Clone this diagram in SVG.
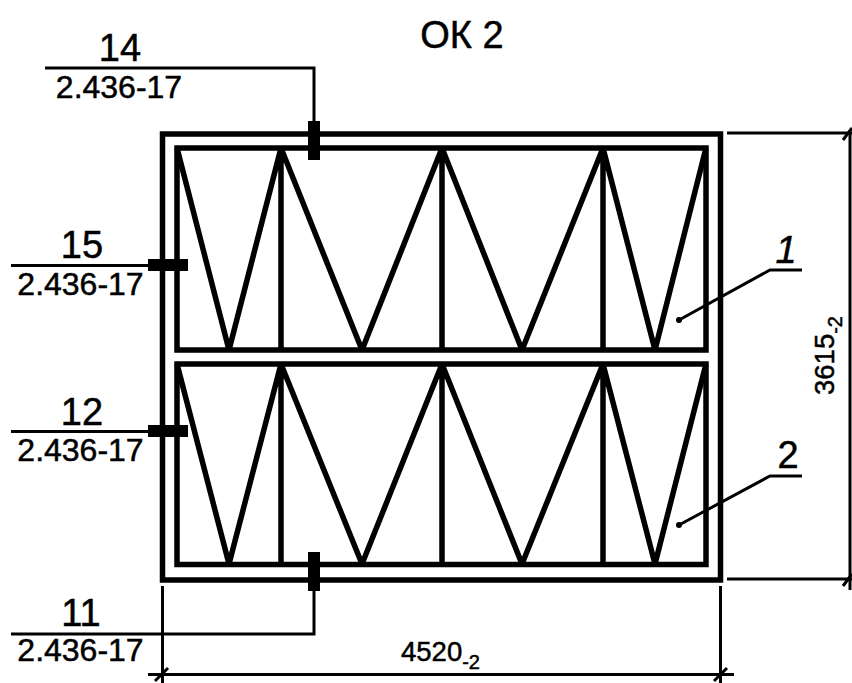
<svg xmlns="http://www.w3.org/2000/svg" width="852" height="683" viewBox="0 0 852 683">
<style>
.h{fill:none;stroke:#000;stroke-width:5.500;stroke-linejoin:miter}
.z{fill:none;stroke:#000;stroke-width:5.500;stroke-linejoin:bevel}
.t{fill:none;stroke:#000;stroke-width:3}
.b{fill:#000}
text{font-family:"Liberation Sans",Arial,sans-serif;fill:#000;stroke:#000;stroke-width:.5}
.n{font-size:38px;text-anchor:middle}
.r{font-size:32px;text-anchor:middle}
.d{font-size:27.500px}
</style>
<rect width="852" height="683" fill="#fff"/>
<g id="frame"><rect class="h" x="162.500" y="134" width="558" height="446"/></g>
<g id="panel-1">
<rect class="h" x="177" y="148" width="529" height="202"/>
<path class="z" d="M281 148V350M442 148V350M603 148V350M177 148L229 350L281 148L362 350L442 148L522 350L603 148L655 350L706 148"/>
</g>
<g id="panel-2">
<rect class="h" x="177" y="364" width="529" height="200.500"/>
<path class="z" d="M281 364V564M442 364V564M603 364V564M177 364L229 564L281 364L362 564L442 364L522 564L603 364L655 564L706 364"/>
</g>
<g id="connectors">
<path class="t" d="M45 68H314V122M11 265.500H150M11 431.500H150M11 634H314V590"/>
<path class="t" d="M162.500 586V683M720.500 586V683M727 133H852M727 579H852M148 674.500H734M850 130V590"/>
<path class="t" d="M155 681L168 668M714 681L727 668M843 140L852 128M843 586L852 574"/>
<path class="t" d="M679 320L770 270H802M679 525L770 476H802"/>
<circle class="b" cx="679" cy="320" r="3"/><circle class="b" cx="679" cy="525" r="3"/>
</g>
<g id="node-14"><rect class="b" x="308" y="121" width="12" height="39"/><text class="n" x="120" y="61">14</text><text class="r" x="119" y="98">2.436-17</text></g>
<g id="node-15"><rect class="b" x="148" y="259" width="40" height="12"/><text class="n" x="82" y="258">15</text><text class="r" x="80.500" y="295">2.436-17</text></g>
<g id="node-12"><rect class="b" x="148" y="425" width="40" height="12"/><text class="n" x="82" y="425">12</text><text class="r" x="80.500" y="461">2.436-17</text></g>
<g id="node-11"><rect class="b" x="308" y="552" width="12" height="39"/><text class="n" x="81" y="626">11</text><text class="r" x="80.500" y="661">2.436-17</text></g>
<g id="title"><text x="462" y="47.500" font-size="38" text-anchor="middle">ОК 2</text></g>
<g id="label-1"><text x="786" y="263" font-size="38" font-style="italic" text-anchor="middle">1</text></g>
<g id="label-2"><text x="788" y="468" font-size="38" text-anchor="middle">2</text></g>
<g id="dim-w"><text class="d" x="401" y="661">4520<tspan font-size="20" dy="8">-2</tspan></text></g>
<g id="dim-h"><text class="d" transform="translate(834 395) rotate(-90)">3615<tspan font-size="20" dy="8">-2</tspan></text></g>
</svg>
